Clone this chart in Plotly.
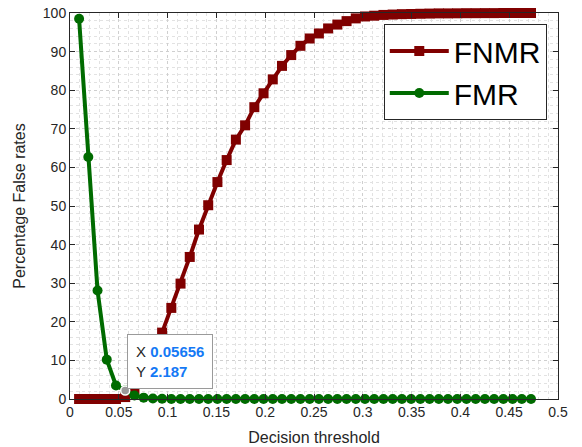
import plotly.graph_objects as go

thresholds = [0.00931, 0.01876, 0.02821, 0.03766, 0.04711, 0.05656, 0.06601, 0.07546, 0.08491, 0.09436,
              0.10381, 0.11326, 0.12271, 0.13216, 0.14161, 0.15106, 0.16051, 0.16996, 0.17941, 0.18886,
              0.19831, 0.20776, 0.21721, 0.22666, 0.23611, 0.24556, 0.25501, 0.26446, 0.27391, 0.28336,
              0.29281, 0.30226, 0.31171, 0.32116, 0.33061, 0.34006, 0.34951, 0.35896, 0.36841, 0.37786,
              0.38731, 0.39676, 0.40621, 0.41566, 0.42511, 0.43456, 0.44401, 0.45346, 0.46291, 0.47236]

fnmr = [0, 0, 0, 0, 0, 0.5, 2.5, 6.5, 11.5, 17.2,
        23.6, 29.9, 36.8, 43.9, 50.2, 56.2, 61.9, 67.2, 70.9, 75.6,
        79.2, 82.8, 86.3, 89.1, 91.5, 93.4, 94.7, 96.0, 97.0, 97.9,
        98.6, 99.1, 99.3, 99.5, 99.6, 99.7, 99.75, 99.8, 99.85, 99.9,
        99.9, 99.92, 99.95, 99.95, 99.97, 99.97, 100, 100, 100, 100]

fmr = [98.5, 62.7, 28.1, 10.2, 3.5, 2.187, 0.9, 0.35, 0.15, 0.05] + [0] * 40

tip_x = [0.05656]
tip_y = [2.187]

RED = "#800000"
GREEN = "#006b00"
FONT = "Liberation Sans, Arial, Helvetica, sans-serif"

fig = go.Figure()
fig.add_trace(go.Scatter(x=thresholds, y=fnmr, name="FNMR", mode="lines+markers",
                         line=dict(color=RED, width=4),
                         marker=dict(symbol="square", size=10, color=RED),
                         cliponaxis=False))
fig.add_trace(go.Scatter(x=thresholds, y=fmr, name="FMR", mode="lines+markers",
                         line=dict(color=GREEN, width=4),
                         marker=dict(symbol="circle", size=10, color=GREEN),
                         cliponaxis=False))
fig.add_trace(go.Scatter(x=tip_x, y=tip_y, mode="markers", showlegend=False,
                         marker=dict(symbol="circle", size=9, color="#9a9a9a",
                                     line=dict(color="white", width=1.5)),
                         cliponaxis=False))

fig.add_annotation(x=tip_x[0], y=tip_y[0], xref="x", yref="y",
                   text=("X <span style='color:#1479f5'><b>%.5f</b></span><br>"
                         "Y <span style='color:#1479f5'><b>%.3f</b></span>") % (tip_x[0], tip_y[0]),
                   showarrow=False, xanchor="left", yanchor="bottom", align="left",
                   xshift=2, yshift=2,
                   font=dict(family=FONT, size=15, color="#262626"),
                   bgcolor="white", bordercolor="#9a9a9a", borderwidth=1, borderpad=8)

axis_common = dict(showline=True, linecolor="#262626", linewidth=1, mirror="ticks",
                   ticks="inside", ticklen=5, tickcolor="#262626",
                   tickfont=dict(family=FONT, size=14, color="#262626"),
                   showgrid=True, gridcolor="#cfcfcf", griddash="dot", gridwidth=1,
                   zeroline=False, automargin=False)

fig.update_xaxes(range=[0, 0.5], dtick=0.05, tick0=0,
                 title=dict(text="Decision threshold", font=dict(family=FONT, size=16, color="#262626"), standoff=13),
                 minor=dict(dtick=0.01, showgrid=True, gridcolor="#e2e2e2", griddash="dot", gridwidth=1),
                 **axis_common)
fig.update_yaxes(range=[0, 100], dtick=10, tick0=0,
                 title=dict(text="Percentage False rates", font=dict(family=FONT, size=16, color="#262626"), standoff=13),
                 minor=dict(dtick=2, showgrid=True, gridcolor="#e2e2e2", griddash="dot", gridwidth=1),
                 **axis_common)

fig.update_layout(width=582, height=447,
                  margin=dict(l=70, r=24, t=13, b=48, autoexpand=False),
                  paper_bgcolor="white", plot_bgcolor="white",
                  font=dict(family=FONT),
                  hovermode=False,
                  legend=dict(x=0.643, y=0.9715, xanchor="left", yanchor="top",
                              bgcolor="white", bordercolor="#262626", borderwidth=1,
                              font=dict(family=FONT, size=30, color="#000000"),
                              itemwidth=59, tracegroupgap=0))

fig.write_html("out.html", config={"displayModeBar": False},
               post_script="document.body.style.margin='0';document.body.style.overflow='hidden';")
